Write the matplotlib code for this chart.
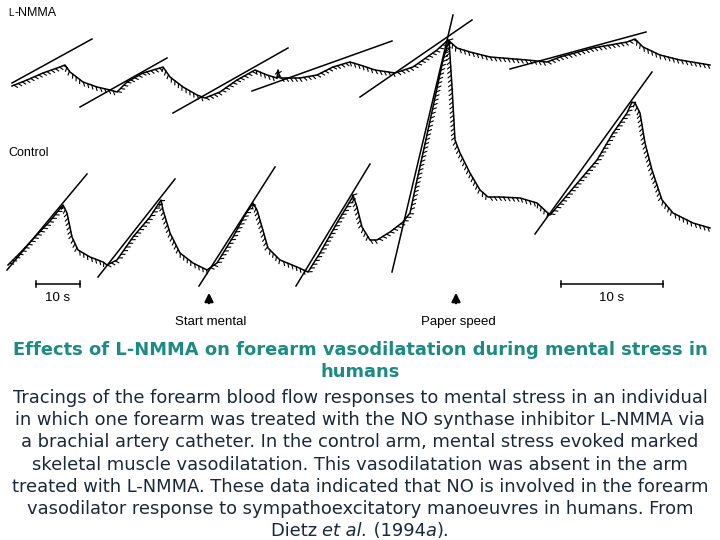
import matplotlib
matplotlib.use("Agg")
import matplotlib.pyplot as plt
import matplotlib.patheffects as pe

# ---- data (pixel coordinates of the original figure) ----
lnmma_x = [12, 27, 43, 60, 65, 70, 83, 97, 110, 117, 127, 143, 160, 163, 170, 183, 197, 205,
           220, 237, 255, 267, 277, 278, 280, 300, 317, 333, 350, 360, 375, 395, 413, 437, 448,
           457, 470, 490, 527, 547, 560, 593, 627, 635, 643, 660, 680, 710]
lnmma_y = [86, 80, 73, 67, 65, 72, 82, 87, 90, 92, 82, 73, 68, 67, 77, 87, 95, 98,
           92, 80, 70, 75, 78, 70, 78, 78, 75, 67, 62, 65, 70, 73, 67, 50, 40,
           48, 52, 57, 60, 62, 57, 48, 42, 39, 47, 55, 60, 65]

ctrl_x = [8, 20, 35, 50, 63, 67, 72, 78, 90, 103, 107, 117, 133, 150, 161, 163, 170, 180, 193,
          207, 217, 233, 245, 253, 257, 262, 268, 280, 297, 308, 320, 337, 352, 353, 357, 362,
          370, 377, 390, 403, 410, 417, 423, 433, 443, 449, 452, 455, 460, 470, 480, 488, 500,
          520, 537, 550, 563, 580, 597, 613, 627, 632, 635, 640, 645, 652, 662, 673, 693, 710]
ctrl_y = [265, 253, 237, 221, 205, 213, 237, 250, 257, 262, 265, 260, 237, 217, 200, 210, 233,
          253, 263, 270, 263, 237, 215, 203, 210, 227, 248, 260, 267, 272, 253, 223, 198, 195,
          207, 227, 240, 240, 232, 222, 213, 180, 153, 107, 60, 40, 87, 140, 153, 173, 190, 197,
          197, 198, 203, 215, 200, 180, 160, 133, 113, 102, 103, 113, 143, 170, 200, 213, 223, 228]

# fitted slope lines: (x0, y0, x1, y1)
lnmma_fits = [(12, 83, 92, 39), (80, 107, 167, 58), (173, 113, 288, 48),
              (252, 91, 392, 41), (360, 97, 472, 20), (510, 69, 646, 32)]
ctrl_fits = [(7, 270, 87, 174), (98, 277, 175, 179), (199, 286, 275, 167),
             (296, 286, 370, 164), (392, 272, 453, 15), (535, 234, 652, 72)]

scale_bars = [(36, 80), (561, 663)]
scale_label = "10 s"
markers = [(209, "Start mental"), (456, "Paper speed")]

title_lines = ["Effects of L-NMMA on forearm vasodilatation during mental stress in",
               "humans"]
body_lines = ["Tracings of the forearm blood flow responses to mental stress in an individual",
              "in which one forearm was treated with the NO synthase inhibitor L-NMMA via",
              "a brachial artery catheter. In the control arm, mental stress evoked marked",
              "skeletal muscle vasodilatation. This vasodilatation was absent in the arm",
              "treated with L-NMMA. These data indicated that NO is involved in the forearm",
              "vasodilator response to sympathoexcitatory manoeuvres in humans. From"]
last_line = [("Dietz ", 'normal'), ("et al.", 'italic'), (" (1994", 'normal'),
             ("a", 'italic'), (").", 'normal')]

# ---- figure ----
fig = plt.figure(figsize=(7.2, 5.4), dpi=100)
ax = fig.add_axes([0, 0, 1, 1])
ax.set_xlim(0, 720)
ax.set_ylim(540, 0)
ax.axis('off')

ripple = [pe.TickedStroke(spacing=3.2, length=0.9, angle=-55, linewidth=0.8, foreground='black'),
          pe.Normal()]
ax.plot(lnmma_x, lnmma_y, color='black', lw=1.1, path_effects=ripple)
ax.plot(ctrl_x, ctrl_y, color='black', lw=1.1, path_effects=ripple)

for (x0, y0, x1, y1) in lnmma_fits + ctrl_fits:
    ax.plot([x0, x1], [y0, y1], color='black', lw=1.1)

lab_font = dict(family='Liberation Sans', color='black')
ax.text(8, 13, "L", fontsize=7, va='center', ha='left', **lab_font)
ax.text(14.5, 13, "-NMMA", fontsize=9, va='center', ha='left', **lab_font)
ax.text(8, 153, "Control", fontsize=9, va='center', ha='left', **lab_font)

for (xa, xb) in scale_bars:
    ax.plot([xa, xb], [284, 284], color='black', lw=1.1)
    ax.plot([xa, xa], [281, 287], color='black', lw=1.1)
    ax.plot([xb, xb], [281, 287], color='black', lw=1.1)
    ax.text((xa + xb) / 2, 298, scale_label, fontsize=9.5, ha='center', va='center', **lab_font)

for (xm, lab) in markers:
    ax.annotate('', xy=(xm, 290), xytext=(xm, 306),
                arrowprops=dict(arrowstyle='-|>,head_width=0.25,head_length=0.5',
                                color='black', lw=1.6))
    ax.text(xm + 2, 322, lab, fontsize=9.5, ha='center', va='center', **lab_font)

teal = '#1d8b83'
navy = '#19293b'
fs = 12.9
for i, t in enumerate(title_lines):
    ax.text(360, 350 + 22 * i, t, fontsize=fs, fontweight='bold', color=teal,
            ha='center', va='center', family='DejaVu Sans')
for i, t in enumerate(body_lines):
    ax.text(360, 398 + 22.2 * i, t, fontsize=fs, color=navy,
            ha='center', va='center', family='DejaVu Sans')

# last line with mixed italic pieces, centred
renderer = fig.canvas.get_renderer()
y_last = 398 + 22.2 * len(body_lines)
pieces = []
total = 0.0
for txt, style in last_line:
    t = ax.text(0, y_last, txt, fontsize=fs, color=navy, style=style,
                ha='left', va='center', family='DejaVu Sans')
    w = t.get_window_extent(renderer).width
    pieces.append((t, w))
    total += w
x_px = fig.bbox.width / 2 - total / 2
for t, w in pieces:
    xd = ax.transData.inverted().transform((x_px, 0))[0]
    t.set_x(xd)
    x_px += w

fig.savefig('out.png', dpi=100)
